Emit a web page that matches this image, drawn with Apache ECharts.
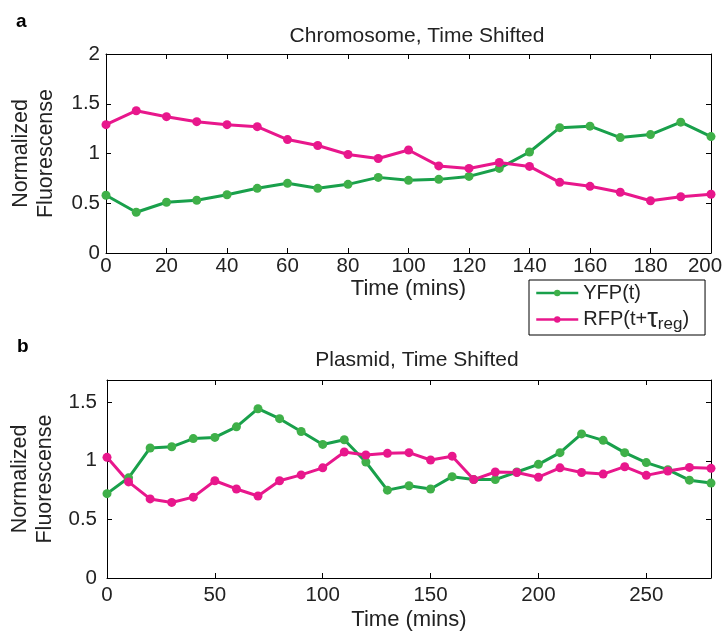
<!DOCTYPE html>
<html>
<head>
<meta charset="utf-8">
<script src="https://cdn.jsdelivr.net/npm/echarts@6/dist/echarts.min.js"></script>
<style>
html,body{margin:0;padding:0;background:#fff;}
#c{width:723px;height:634px;}
</style>
</head>
<body>
<div id="c"></div>
<script>
// ---- data ----
var timeA = [0,10,20,30,40,50,60,70,80,90,100,110,120,130,140,150,160,170,180,190,200];
var yfpA = [0.58,0.41,0.51,0.53,0.585,0.65,0.70,0.65,0.69,0.76,0.73,0.74,0.77,0.85,1.015,1.26,1.275,1.16,1.19,1.315,1.17];
var rfpA = [1.29,1.43,1.37,1.32,1.29,1.27,1.14,1.08,0.99,0.95,1.035,0.875,0.85,0.91,0.87,0.71,0.67,0.61,0.525,0.565,0.59];

var timeB = [0,10,20,30,40,50,60,70,80,90,100,110,120,130,140,150,160,170,180,190,200,210,220,230,240,250,260,270,280];
var yfpB = [0.72,0.855,1.11,1.12,1.19,1.20,1.29,1.445,1.36,1.25,1.14,1.18,0.99,0.75,0.787,0.76,0.865,0.84,0.84,0.905,0.97,1.07,1.23,1.175,1.07,0.985,0.925,0.835,0.81];
var rfpB = [1.03,0.82,0.675,0.645,0.69,0.83,0.76,0.70,0.83,0.88,0.94,1.075,1.05,1.064,1.07,1.007,1.04,0.84,0.905,0.9,0.86,0.94,0.90,0.887,0.95,0.876,0.913,0.944,0.936];

var titleA = 'Chromosome, Time Shifted';
var titleB = 'Plasmid, Time Shifted';
var xName = 'Time (mins)';
var yName = 'Normalized\nFluorescense';
var seriesNames = ['YFP(t)', 'RFP(t+τreg)'];

// ---- styling ----
var GREEN = '#19a04b', GREEN_M = '#3fb049';
var MAG = '#e8178c';
var FONT = 'Liberation Sans, Arial, Helvetica, sans-serif';
var TXT = '#222';

function pairs(t, v){ return t.map(function(x,i){ return [x, v[i]]; }); }
function fmt(step, max){
  return function(v){
    var r = Math.round(v/step)*step;
    if (Math.abs(r-v) >= 1e-9) return '';
    if (max !== undefined && Math.abs(v-max) < 1e-9) return '{e|' + v + '}';
    return String(v);
  };
}

function xAx(gi, max, interval, main, labelMargin, nameGap){
  return {
    type:'value', gridIndex:gi, min:0, max:max, interval:interval,
    position: main ? 'bottom' : 'top',
    name: main ? xName : '', nameLocation:'middle', nameGap:nameGap,
    nameTextStyle:{fontFamily:FONT, fontSize:22, color:TXT},
    axisLine:{show:true, onZero:false, lineStyle:{color:'#000', width:1}},
    axisTick:{show:true, inside:true, length:5, lineStyle:{color:'#000'}},
    axisLabel:{show:main, margin:labelMargin, fontFamily:FONT, fontSize:20.5, color:TXT, formatter:fmt(interval, max),
      rich:{e:{fontFamily:FONT, fontSize:20.5, color:TXT, padding:[0,12,0,0]}}},
    splitLine:{show:false}
  };
}
function yAx(gi, max, main, labelMargin){
  return {
    type:'value', gridIndex:gi, min:0, max:max, interval:0.5,
    position: main ? 'left' : 'right',
    name: main ? yName : '', nameLocation:'middle', nameGap:47,
    nameTextStyle:{fontFamily:FONT, fontSize:21.5, color:TXT, lineHeight:25, verticalAlign:'bottom'},
    axisLine:{show:true, onZero:false, lineStyle:{color:'#000', width:1}},
    axisTick:{show:true, inside:true, length:5, lineStyle:{color:'#000'}},
    axisLabel:{show:main, margin:labelMargin, fontFamily:FONT, fontSize:20.5, color:TXT, formatter:fmt(0.5)},
    splitLine:{show:false}
  };
}
function line(name, xi, yi, data, color, mcolor){
  return {
    type:'line', name:name, xAxisIndex:xi, yAxisIndex:yi, data:data,
    symbol:'circle', symbolSize:9, showSymbol:true,
    lineStyle:{color:color, width:3},
    itemStyle:{color:mcolor},
    color:color,
    animation:false, z:3
  };
}

var chart = echarts.init(document.getElementById('c'), null, {renderer:'canvas'});
chart.setOption({
  backgroundColor:'#fff',
  animation:false,
  title:[
    {text:titleA, left:412, textAlign:'center', top:21, textStyle:{fontFamily:FONT, fontSize:21, fontWeight:'normal', color:TXT}},
    {text:titleB, left:412, textAlign:'center', top:345, textStyle:{fontFamily:FONT, fontSize:21, fontWeight:'normal', color:TXT}}
  ],
  graphic:[
    {type:'text', left:16, top:12, style:{text:'a', font:'bold 19px '+FONT, fill:'#000'}},
    {type:'text', left:17, top:337, style:{text:'b', font:'bold 19px '+FONT, fill:'#000'}}
  ],
  legend:{
    data:[seriesNames[0], seriesNames[1]],
    orient:'vertical', left:529, top:280, padding:[3,16,2,6], itemGap:3,
    itemWidth:42, itemHeight:8,
    lineStyle:{width:2.5},
    borderColor:'#000', borderWidth:1, backgroundColor:'#fff',
    textStyle:{fontFamily:FONT, fontSize:20, color:TXT,
      rich:{n:{fontFamily:FONT, fontSize:20, color:TXT},
            t:{fontFamily:FONT, fontSize:27, color:TXT},
            s:{fontFamily:FONT, fontSize:17, color:TXT, padding:[10,0,0,0]}}},
    formatter:function(n){
      if (n === seriesNames[1]) return '{n|RFP(t+}{t|τ}{s|reg}{n|)}';
      return '{n|' + n + '}';
    }
  },
  grid:[
    {left:106, right:12, top:54, height:199, containLabel:false, outerBoundsMode:'none'},
    {left:107, right:12, top:380, height:198, containLabel:false, outerBoundsMode:'none'}
  ],
  xAxis:[ xAx(0,200,20,true,3,20), xAx(0,200,20,false,3,0), xAx(1,280,50,true,7,31), xAx(1,280,50,false,7,0) ],
  yAxis:[ yAx(0,2,true,6), yAx(0,2,false,6), yAx(1,1.69,true,10), yAx(1,1.69,false,10) ],
  series:[
    line(seriesNames[0], 0, 0, pairs(timeA, yfpA), GREEN, GREEN_M),
    line(seriesNames[1], 0, 0, pairs(timeA, rfpA), MAG, MAG),
    line(seriesNames[0], 2, 2, pairs(timeB, yfpB), GREEN, GREEN_M),
    line(seriesNames[1], 2, 2, pairs(timeB, rfpB), MAG, MAG)
  ]
});
</script>
</body>
</html>
